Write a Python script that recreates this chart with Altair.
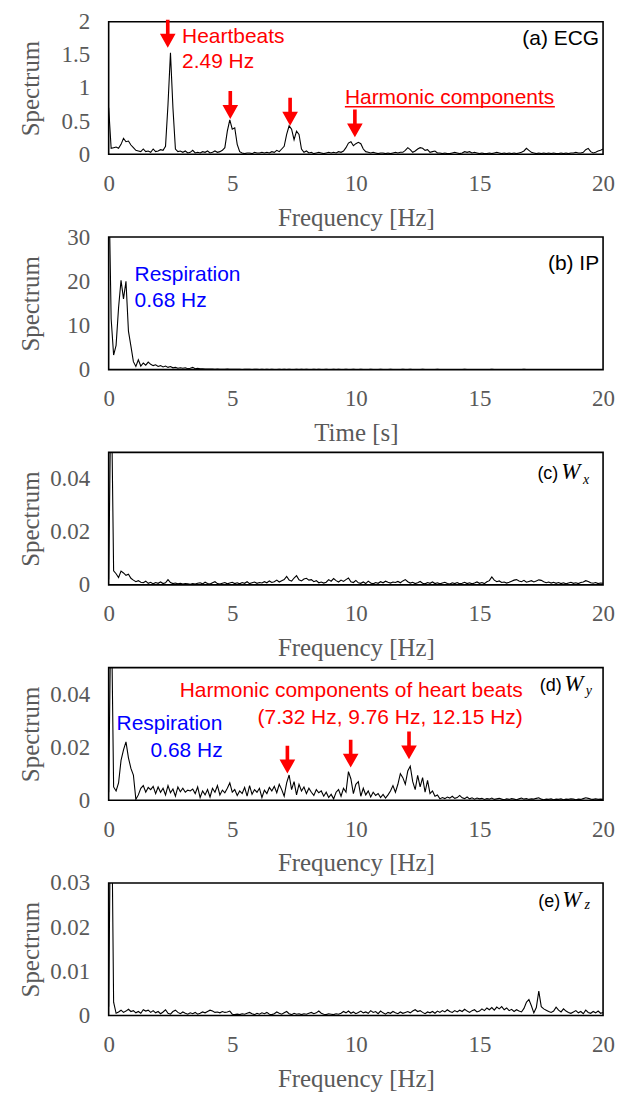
import altair as alt
import pandas as pd

# ---------------- data (spectrum values on a 0.1 Hz grid, 0..20 Hz) ----------------
FREQ = [round(i * 0.1, 1) for i in range(201)]

ECG = [
    0.70, 0.09, 0.10, 0.11, 0.09, 0.15, 0.24, 0.19, 0.20, 0.14,
    0.10, 0.06, 0.05, 0.04, 0.08, 0.04, 0.05, 0.03, 0.08, 0.04,
    0.05, 0.07, 0.06, 0.12, 0.75, 1.53, 0.70, 0.08, 0.04, 0.05,
    0.03, 0.05, 0.02, 0.03, 0.06, 0.02, 0.03, 0.02, 0.04, 0.03,
    0.05, 0.02, 0.03, 0.05, 0.03, 0.04, 0.06, 0.10, 0.35, 0.52,
    0.38, 0.40, 0.15, 0.04, 0.02, 0.01, 0.02, 0.02, 0.01, 0.03,
    0.02, 0.02, 0.03, 0.02, 0.03, 0.02, 0.04, 0.03, 0.06, 0.04,
    0.08, 0.12, 0.30, 0.43, 0.38, 0.22, 0.35, 0.30, 0.08, 0.03,
    0.05, 0.02, 0.03, 0.01, 0.02, 0.03, 0.02, 0.01, 0.02, 0.03,
    0.02, 0.03, 0.02, 0.04, 0.03, 0.05, 0.10, 0.17, 0.19, 0.13,
    0.16, 0.18, 0.16, 0.08, 0.04, 0.03, 0.02, 0.03, 0.02, 0.01,
    0.02, 0.02, 0.01, 0.02, 0.01, 0.02, 0.03, 0.02, 0.03, 0.03,
    0.06, 0.10, 0.07, 0.03, 0.05, 0.08, 0.10, 0.09, 0.06, 0.07,
    0.03, 0.04, 0.05, 0.02, 0.02, 0.01, 0.02, 0.01, 0.01, 0.02,
    0.03, 0.02, 0.01, 0.02, 0.04, 0.03, 0.04, 0.02, 0.03, 0.02,
    0.01, 0.02, 0.01, 0.01, 0.02, 0.01, 0.02, 0.03, 0.02, 0.01,
    0.02, 0.01, 0.02, 0.01, 0.02, 0.01, 0.02, 0.03, 0.05, 0.09,
    0.06, 0.03, 0.02, 0.01, 0.02, 0.01, 0.02, 0.01, 0.02, 0.01,
    0.02, 0.01, 0.01, 0.02, 0.01, 0.02, 0.01, 0.02, 0.02, 0.03,
    0.02, 0.02, 0.03, 0.07, 0.09, 0.04, 0.02, 0.03, 0.05, 0.06,
    0.08,
]

IP = [
    45.0, 11.5, 3.3, 5.5, 14.0, 20.2, 16.0, 20.0, 8.7, 5.3,
    1.8, 0.7, 2.2, 0.8, 1.5, 1.0, 1.7, 1.2, 0.9, 1.1,
    0.7, 0.9, 0.6, 0.8, 0.5, 0.7, 0.4, 0.5, 0.3, 0.4,
    0.3, 0.4, 0.2, 0.3, 0.5, 0.2, 0.3, 0.2, 0.2, 0.1,
    0.15, 0.1, 0.12, 0.08, 0.1, 0.06, 0.09, 0.07, 0.1, 0.05,
    0.08, 0.06, 0.05, 0.07, 0.04, 0.06, 0.05, 0.08, 0.04, 0.05,
    0.06, 0.04, 0.05, 0.03, 0.06, 0.04, 0.05, 0.03, 0.04, 0.06,
    0.04, 0.05, 0.03, 0.06, 0.04, 0.03, 0.05, 0.04, 0.06, 0.03,
    0.05, 0.04, 0.03, 0.05, 0.04, 0.06, 0.03, 0.04, 0.05, 0.03,
    0.04, 0.06, 0.03, 0.05, 0.04, 0.03, 0.05, 0.04, 0.03, 0.05,
    0.04, 0.03, 0.05, 0.04, 0.03, 0.04, 0.05, 0.03, 0.04, 0.03,
    0.05, 0.03, 0.04, 0.03, 0.05, 0.04, 0.03, 0.04, 0.03, 0.05,
    0.03, 0.04, 0.05, 0.03, 0.04, 0.03, 0.04, 0.05, 0.03, 0.04,
    0.03, 0.04, 0.03, 0.05, 0.03, 0.04, 0.03, 0.04, 0.03, 0.04,
    0.04, 0.03, 0.04, 0.03, 0.05, 0.03, 0.04, 0.03, 0.04, 0.03,
    0.03, 0.04, 0.03, 0.04, 0.03, 0.05, 0.03, 0.04, 0.03, 0.04,
    0.04, 0.03, 0.04, 0.03, 0.04, 0.03, 0.04, 0.03, 0.05, 0.03,
    0.03, 0.04, 0.03, 0.04, 0.03, 0.04, 0.03, 0.04, 0.03, 0.04,
    0.04, 0.03, 0.04, 0.03, 0.04, 0.03, 0.04, 0.03, 0.04, 0.03,
    0.03, 0.04, 0.03, 0.04, 0.03, 0.04, 0.03, 0.04, 0.03, 0.04,
    0.03,
]

WX = [
    0.0020, 0.0800, 0.0053, 0.0042, 0.0028, 0.0052, 0.0045, 0.0036, 0.0040, 0.0025,
    0.0018, 0.0012, 0.0016, 0.0010, 0.0008, 0.0014, 0.0006, 0.0010, 0.0004, 0.0009,
    0.0006, 0.0011, 0.0005, 0.0008, 0.0020, 0.0009, 0.0005, 0.0007, 0.0004, 0.0006,
    0.0003, 0.0005, 0.0004, 0.0002, 0.0005, 0.0003, 0.0006, 0.0008, 0.0004, 0.0010,
    0.0005, 0.0003, 0.0008, 0.0012, 0.0005, 0.0003, 0.0006, 0.0009, 0.0004, 0.0007,
    0.0010, 0.0005, 0.0008, 0.0004, 0.0009, 0.0006, 0.0012, 0.0005, 0.0008, 0.0011,
    0.0006, 0.0009, 0.0007, 0.0012, 0.0008, 0.0015, 0.0009, 0.0012, 0.0018, 0.0011,
    0.0016, 0.0020, 0.0032, 0.0018, 0.0014, 0.0026, 0.0035, 0.0019, 0.0015, 0.0022,
    0.0025, 0.0018, 0.0020, 0.0012, 0.0016, 0.0008, 0.0011, 0.0007, 0.0010, 0.0020,
    0.0014, 0.0024, 0.0016, 0.0011, 0.0018, 0.0013, 0.0020, 0.0026, 0.0012, 0.0009,
    0.0017, 0.0008, 0.0006, 0.0011, 0.0005, 0.0014, 0.0007, 0.0004, 0.0009, 0.0006,
    0.0012, 0.0008, 0.0014, 0.0010, 0.0007, 0.0011, 0.0009, 0.0013, 0.0008, 0.0015,
    0.0020, 0.0012, 0.0007, 0.0010, 0.0005, 0.0008, 0.0013, 0.0006, 0.0004, 0.0009,
    0.0006, 0.0011, 0.0005, 0.0008, 0.0004, 0.0007, 0.0010, 0.0005, 0.0003, 0.0008,
    0.0005, 0.0009, 0.0004, 0.0006, 0.0010, 0.0005, 0.0008, 0.0004, 0.0007, 0.0011,
    0.0006, 0.0009, 0.0005, 0.0012, 0.0016, 0.0030, 0.0018, 0.0012, 0.0015, 0.0009,
    0.0011, 0.0007, 0.0010, 0.0014, 0.0018, 0.0020, 0.0015, 0.0012, 0.0017, 0.0010,
    0.0013, 0.0016, 0.0011, 0.0015, 0.0019, 0.0017, 0.0012, 0.0008, 0.0011, 0.0007,
    0.0010, 0.0006, 0.0009, 0.0005, 0.0008, 0.0004, 0.0007, 0.0010, 0.0006, 0.0008,
    0.0005, 0.0009, 0.0011, 0.0016, 0.0013, 0.0008, 0.0006, 0.0009, 0.0005, 0.0007,
    0.0006,
]

WY = [
    0.0030, 0.0800, 0.0050, 0.0035, 0.0065, 0.0150, 0.0190, 0.0220, 0.0160, 0.0120,
    0.0095, 0.0003, 0.0020, 0.0045, 0.0055, 0.0030, 0.0048, 0.0040, 0.0052, 0.0025,
    0.0050, 0.0030, 0.0045, 0.0020, 0.0055, 0.0028, 0.0042, 0.0015, 0.0050, 0.0032,
    0.0045, 0.0030, 0.0038, 0.0035, 0.0042, 0.0025, 0.0050, 0.0010, 0.0035, 0.0020,
    0.0040, 0.0012, 0.0045, 0.0030, 0.0055, 0.0020, 0.0038, 0.0028, 0.0045, 0.0065,
    0.0030, 0.0040, 0.0018, 0.0035, 0.0025, 0.0048, 0.0015, 0.0055, 0.0022, 0.0040,
    0.0030, 0.0045, 0.0010, 0.0038, 0.0025, 0.0048, 0.0035, 0.0052, 0.0028, 0.0060,
    0.0040, 0.0015, 0.0065, 0.0095, 0.0040, 0.0070, 0.0020, 0.0060, 0.0035, 0.0050,
    0.0025, 0.0045, 0.0030, 0.0018, 0.0040, 0.0028, 0.0035, 0.0015, 0.0030, 0.0010,
    0.0022, 0.0005, 0.0030, 0.0040, 0.0015, 0.0045, 0.0030, 0.0108, 0.0080, 0.0025,
    0.0060, 0.0070, 0.0015, 0.0045, 0.0020, 0.0035, 0.0012, 0.0030, 0.0018, 0.0025,
    0.0010, 0.0022, 0.0008, 0.0020, 0.0035, 0.0055, 0.0030, 0.0060, 0.0100, 0.0085,
    0.0060, 0.0110, 0.0128, 0.0070, 0.0040, 0.0094, 0.0050, 0.0085, 0.0030, 0.0075,
    0.0025, 0.0035, 0.0015, 0.0020, 0.0005, 0.0010, 0.0006, 0.0012, 0.0008, 0.0015,
    0.0007, 0.0010, 0.0018, 0.0009, 0.0006, 0.0012, 0.0005, 0.0009, 0.0004, 0.0008,
    0.0005, 0.0007, 0.0003, 0.0006, 0.0004, 0.0008, 0.0003, 0.0005, 0.0007, 0.0004,
    0.0002, 0.0005, 0.0003, 0.0006, 0.0004, 0.0002, 0.0005, 0.0008, 0.0004, 0.0006,
    0.0003, 0.0005, 0.0004, 0.0007, 0.0009, 0.0004, 0.0002, 0.0004, 0.0003, 0.0005,
    0.0002, 0.0004, 0.0003, 0.0005, 0.0002, 0.0004, 0.0003, 0.0005, 0.0004, 0.0002,
    0.0004, 0.0003, 0.0006, 0.0009, 0.0007, 0.0004, 0.0003, 0.0005, 0.0003, 0.0004,
    0.0003,
]

WZ = [
    0.0020, 0.0600, 0.0030, 0.0005, 0.0008, 0.0012, 0.0007, 0.0010, 0.0014, 0.0009,
    0.0011, 0.0006, 0.0009, 0.0005, 0.0013, 0.0010, 0.0012, 0.0007, 0.0011, 0.0006,
    0.0009, 0.0004, 0.0008, 0.0013, 0.0005, 0.0003, 0.0009, 0.0012, 0.0007, 0.0004,
    0.0008, 0.0005, 0.0003, 0.0006, 0.0004, 0.0007, 0.0003, 0.0005, 0.0008, 0.0006,
    0.0009, 0.0012, 0.0010, 0.0007, 0.0008, 0.0006, 0.0009, 0.0007, 0.0008, 0.0010,
    0.0003, 0.0002, 0.0003, 0.0002, 0.0004, 0.0003, 0.0005, 0.0007, 0.0004, 0.0002,
    0.0005, 0.0003, 0.0006, 0.0004, 0.0007, 0.0003, 0.0002, 0.0004, 0.0008, 0.0005,
    0.0003, 0.0006, 0.0009, 0.0004, 0.0002, 0.0005, 0.0003, 0.0004, 0.0002, 0.0004,
    0.0003, 0.0005, 0.0007, 0.0004, 0.0006, 0.0010, 0.0005, 0.0003, 0.0002, 0.0004,
    0.0003, 0.0002, 0.0004, 0.0003, 0.0005, 0.0009, 0.0006, 0.0010, 0.0005, 0.0008,
    0.0004, 0.0007, 0.0010, 0.0006, 0.0008, 0.0005, 0.0011, 0.0007, 0.0009, 0.0004,
    0.0010, 0.0006, 0.0003, 0.0007, 0.0005, 0.0009, 0.0006, 0.0004, 0.0008, 0.0005,
    0.0007, 0.0009, 0.0006, 0.0010, 0.0013, 0.0009, 0.0011, 0.0007, 0.0004, 0.0008,
    0.0006, 0.0009, 0.0005, 0.0010, 0.0007, 0.0011, 0.0008, 0.0013, 0.0009, 0.0007,
    0.0011, 0.0008, 0.0012, 0.0009, 0.0014, 0.0010, 0.0007, 0.0011, 0.0013, 0.0008,
    0.0010, 0.0015, 0.0011, 0.0017, 0.0013, 0.0018, 0.0012, 0.0019, 0.0015, 0.0020,
    0.0013, 0.0017, 0.0011, 0.0014, 0.0009, 0.0013, 0.0010, 0.0008, 0.0016, 0.0030,
    0.0036, 0.0022, 0.0006, 0.0018, 0.0055, 0.0020, 0.0015, 0.0012, 0.0009, 0.0007,
    0.0010, 0.0019, 0.0012, 0.0008, 0.0015, 0.0010, 0.0007, 0.0005, 0.0008, 0.0011,
    0.0006, 0.0009, 0.0004, 0.0012, 0.0007, 0.0005, 0.0009, 0.0006, 0.0010, 0.0005,
    0.0007,
]

X_TICKS = [0, 5, 10, 15, 20]
Y_TICKS_A = [0, 0.5, 1, 1.5, 2]
Y_TICKS_B = [0, 10, 20, 30]
Y_TICKS_C = [0, 0.02, 0.04]
Y_TICKS_D = [0, 0.02, 0.04]
Y_TICKS_E = [0, 0.01, 0.02, 0.03]

# annotations (positions in data units: Hz, spectrum)
A_RED_TEXT = ["Heartbeats", "2.49 Hz", "Harmonic components"]
A_RED_F = [2.97, 2.97, 9.556]
A_RED_S = [1.684, 1.308, 0.756]
A_UNDERLINE_F = [9.556]
A_UNDERLINE_F2 = [18.05]
A_UNDERLINE_S = [0.717]
A_ARROW_F = [2.39, 4.92, 7.34, 9.96]
A_ARROW_S = [1.609, 0.534, 0.432, 0.256]

B_BLUE_TEXT = ["Respiration", "0.68 Hz"]
B_BLUE_F = [1.048, 1.048]
B_BLUE_S = [20.15, 14.27]

D_RED_TEXT = ["Harmonic components of heart beats", "(7.32 Hz, 9.76 Hz, 12.15 Hz)"]
D_RED_F = [16.75, 16.75]
D_RED_S = [0.0388, 0.02883]
D_BLUE_TEXT = ["Respiration", "0.68 Hz"]
D_BLUE_F = [4.60, 4.61]
D_BLUE_S = [0.02632, 0.01628]
D_ARROW_F = [7.23, 9.79, 12.15]
D_ARROW_S = [0.01004, 0.0123, 0.01541]

# panel tags: (tag, tag_right_f, W_left_f, sub, sub_left_f, baseline_s, sub_baseline_s)
TAG_A = ("(a) ECG", 19.84, 1.650)
TAG_B = ("(b) IP", 19.84, 22.56)
TAG_C = ("(c)", 18.19, 18.31, "x", 19.19, 0.0400, 0.0382)
TAG_D = ("(d)", 18.33, 18.43, "y", 19.30, 0.0410, 0.0396)
TAG_E = ("(e)", 18.27, 18.35, "z", 19.25, 0.02460, 0.02400)

W_PX, H_PX = 496, 133
ARROW = "M-0.13,-2L0.13,-2L0.13,-1L0.56,-1L0,0L-0.56,-1L-0.13,-1Z"
SANS = "Liberation Sans"
SERIF = "Liberation Serif"
GRAY = "#595959"


def xscale():
    return alt.Scale(domain=[0, 20], nice=False, zero=False)


def yscale(ymax):
    return alt.Scale(domain=[0, ymax], nice=False, zero=True)


def text_layer(texts, fs, ss, ymax, color, align, size=21, font=SANS, style="normal"):
    df = pd.DataFrame({"f": fs, "s": ss, "t": texts})
    return alt.Chart(df).mark_text(
        align=align, baseline="alphabetic", font=font, fontSize=size,
        color=color, fontStyle=style,
    ).encode(
        x=alt.X("f:Q", scale=xscale()),
        y=alt.Y("s:Q", scale=yscale(ymax)),
        text="t:N",
    )


def arrow_layer(fs, ss, ymax):
    df = pd.DataFrame({"f": fs, "s": ss})
    return alt.Chart(df).mark_point(
        shape=ARROW, size=784, filled=True, color="#FF0000", opacity=1, strokeWidth=0,
    ).encode(
        x=alt.X("f:Q", scale=xscale()),
        y=alt.Y("s:Q", scale=yscale(ymax)),
    )


def base_line(values, ymax, yticks, xtitle):
    df = pd.DataFrame({"f": FREQ, "s": values})
    return alt.Chart(df).mark_line(color="black", strokeWidth=1.1, clip=True).encode(
        x=alt.X("f:Q", scale=xscale(), axis=alt.Axis(
            values=X_TICKS, tickCount=20, title=xtitle, labelPadding=18, titleY=63,
            titleBaseline="middle", labelFlush=False, labelOverlap=False)),
        y=alt.Y("s:Q", scale=yscale(ymax), axis=alt.Axis(
            values=yticks, tickCount=20, format="~r", title="Spectrum", labelPadding=19,
            titleX=-78, titleY=H_PX / 2, titleAngle=270, titleBaseline="middle",
            titleAlign="center", labelFlush=False, labelOverlap=False)),
    )


def tag_layers(tag, ymax):
    name, right_f, w_f, sub, sub_f, bs, sbs = tag
    return [
        text_layer([name], [right_f], [bs], ymax, "black", "right", size=18),
        text_layer(["W"], [w_f], [bs], ymax, "black", "left", size=23, font=SERIF, style="italic"),
        text_layer([sub], [sub_f], [sbs], ymax, "black", "left", size=14, font=SERIF, style="italic"),
    ]


# panel (a)
ua = pd.DataFrame({"f": A_UNDERLINE_F, "f2": A_UNDERLINE_F2, "s": A_UNDERLINE_S})
underline = alt.Chart(ua).mark_rule(color="#FF0000", strokeWidth=1.5).encode(
    x=alt.X("f:Q", scale=xscale()), x2="f2:Q",
    y=alt.Y("s:Q", scale=yscale(2)),
)
pa = alt.layer(
    base_line(ECG, 2, Y_TICKS_A, "Frequency [Hz]"),
    text_layer(A_RED_TEXT, A_RED_F, A_RED_S, 2, "#FF0000", "left"),
    underline,
    arrow_layer(A_ARROW_F, A_ARROW_S, 2),
    text_layer([TAG_A[0]], [TAG_A[1]], [TAG_A[2]], 2, "black", "right"),
).properties(width=W_PX, height=H_PX)

# panel (b)
pb = alt.layer(
    base_line(IP, 30, Y_TICKS_B, "Time [s]"),
    text_layer(B_BLUE_TEXT, B_BLUE_F, B_BLUE_S, 30, "#0000FF", "left"),
    text_layer([TAG_B[0]], [TAG_B[1]], [TAG_B[2]], 30, "black", "right"),
).properties(width=W_PX, height=H_PX)

# panel (c)
pc = alt.layer(
    base_line(WX, 0.05, Y_TICKS_C, "Frequency [Hz]"),
    *tag_layers(TAG_C, 0.05),
).properties(width=W_PX, height=H_PX)

# panel (d)
pdd = alt.layer(
    base_line(WY, 0.05, Y_TICKS_D, "Frequency [Hz]"),
    text_layer(D_RED_TEXT, D_RED_F, D_RED_S, 0.05, "#FF0000", "right"),
    text_layer(D_BLUE_TEXT, D_BLUE_F, D_BLUE_S, 0.05, "#0000FF", "right"),
    arrow_layer(D_ARROW_F, D_ARROW_S, 0.05),
    *tag_layers(TAG_D, 0.05),
).properties(width=W_PX, height=H_PX)

# panel (e)
pe = alt.layer(
    base_line(WZ, 0.03, Y_TICKS_E, "Frequency [Hz]"),
    *tag_layers(TAG_E, 0.03),
).properties(width=W_PX, height=H_PX)

chart = alt.vconcat(pa, pb, pc, pdd, pe, spacing=83, bounds="flush").properties(
    padding={"left": 10, "top": 0, "right": 5, "bottom": 5},
).configure_view(
    stroke="black", strokeWidth=1.6,
).configure_axis(
    domain=False, grid=False, ticks=False, tickSize=0,
    labelOverlap=False, labelFlush=False,
    labelFont=SERIF, labelFontSize=23, labelColor=GRAY,
    titleFont=SERIF, titleFontSize=25, titleColor=GRAY, titleFontWeight="normal",
)

chart.save("out.html", embed_options={"renderer": "svg", "actions": False})
